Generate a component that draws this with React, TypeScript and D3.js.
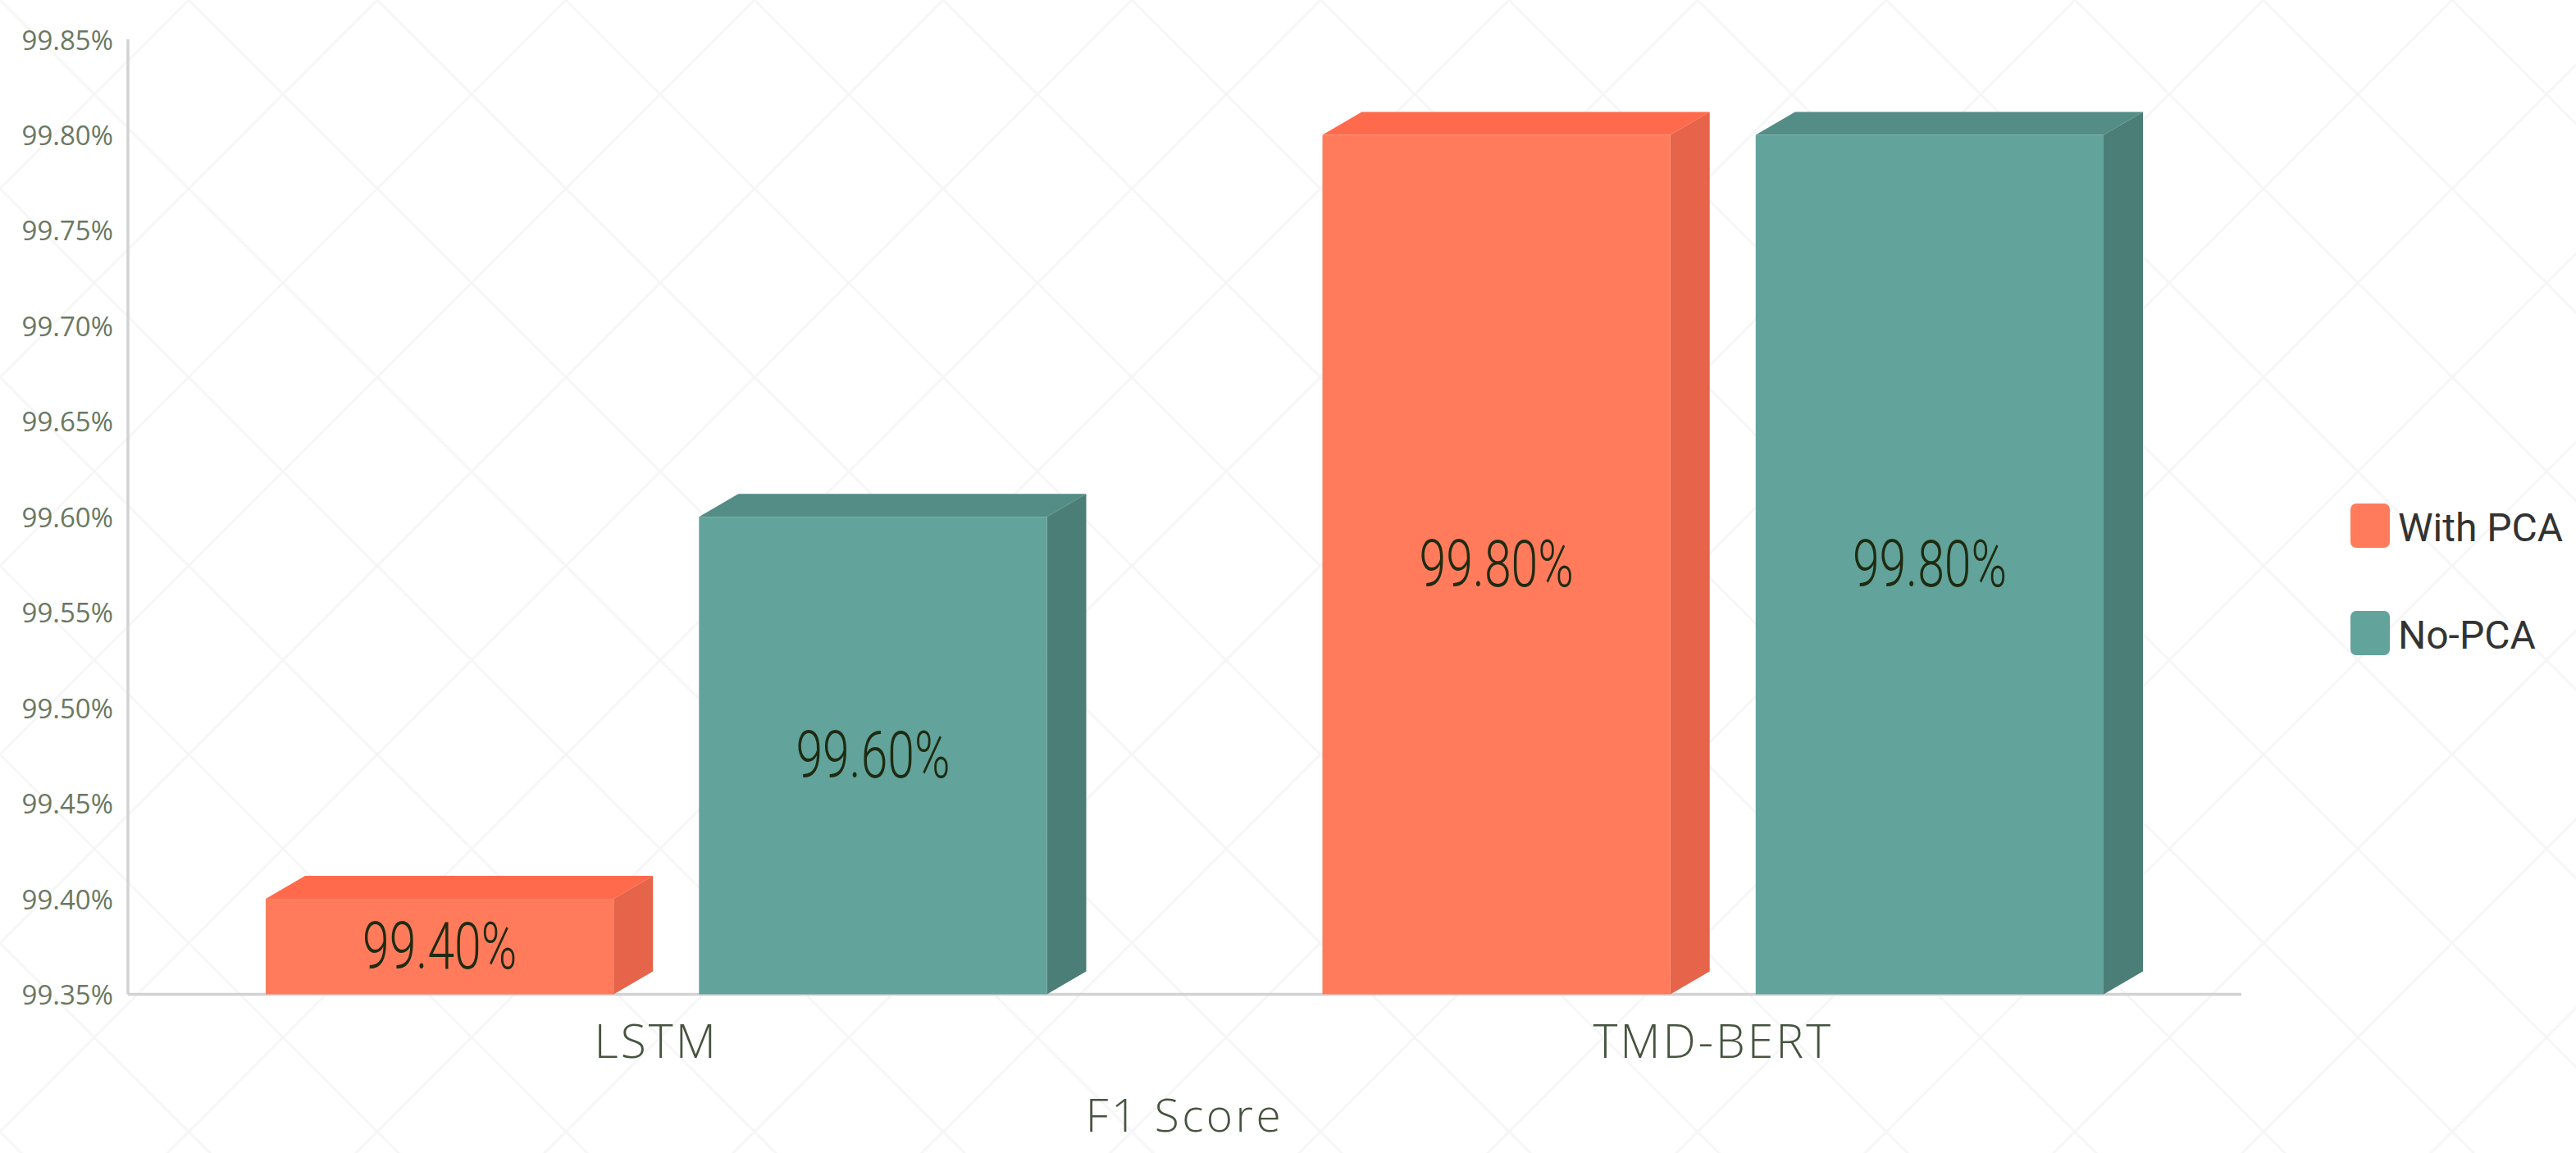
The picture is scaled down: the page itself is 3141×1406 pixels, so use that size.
import React from "react";
import * as d3 from "d3";

const categories = ["LSTM", "TMD-BERT"];
const seriesNames = ["With PCA", "No-PCA"];
const withPCA = [99.4, 99.8];
const noPCA = [99.6, 99.8];
const yTicks = [99.35, 99.4, 99.45, 99.5, 99.55, 99.6, 99.65, 99.7, 99.75, 99.8, 99.85];
const xAxisTitle = "F1 Score";

const W = 3141;
const H = 1406;
const M = { left: 156, right: 2733, top: 48, bottom: 1212.5 };

const palette = [
  { front: "#FF7B5C", top: "#FF6A4D", side: "#E5644A" },
  { front: "#62A39B", top: "#538D86", side: "#4B7E77" },
];

const DX = 48;
const DY = 28;

export default function App() {
  const x0 = d3.scaleBand<string>().domain(categories).range([M.left, M.right]).paddingInner(0).paddingOuter(0);
  const x1 = d3
    .scaleBand<string>()
    .domain(seriesNames)
    .range([0, x0.bandwidth()])
    .paddingInner(0.197)
    .paddingOuter(0.318);
  const y = d3.scaleLinear().domain([99.35, 99.85]).range([M.bottom, M.top]);
  const fmt = (v: number) => d3.format(".2f")(v) + "%";
  const series = [withPCA, noPCA];

  const bars: any[] = [];
  categories.forEach((c, ci) => {
    seriesNames.forEach((s, si) => {
      const v = series[si][ci];
      const bx = (x0(c) as number) + (x1(s) as number);
      const bw = x1.bandwidth();
      const top = y(v);
      const base = y(99.35);
      const col = palette[si];
      bars.push(
        <g key={c + s}>
          <polygon
            points={`${bx},${top} ${bx + DX},${top - DY} ${bx + bw + DX},${top - DY} ${bx + bw},${top}`}
            fill={col.top}
          />
          <polygon
            points={`${bx + bw},${top} ${bx + bw + DX},${top - DY} ${bx + bw + DX},${base - DY} ${bx + bw},${base}`}
            fill={col.side}
          />
          <rect x={bx} y={top} width={bw} height={base - top} fill={col.front} />
          <text
            x={bx + bw / 2}
            y={(top + base) / 2}
            textAnchor="middle"
            dominantBaseline="central"
            fontFamily="Roboto"
            fontWeight={300}
            fontSize={80}
            fill="#1E2B10"
            textLength={188}
            lengthAdjust="spacingAndGlyphs"
          >
            {fmt(v)}
          </text>
        </g>
      );
    });
  });

  return (
    <svg
      width={W}
      height={H}
      viewBox={`0 0 ${W} ${H}`}
      style={{ position: "absolute", left: 0, top: 0, background: "#ffffff" }}
    >
      <defs>
        <pattern id="zig" width="230" height="230" patternUnits="userSpaceOnUse">
          <path d="M0,0 L115,115 L230,0 M0,230 L115,115 L230,230" stroke="#f6f6f6" strokeWidth="3" fill="none" />
        </pattern>
      </defs>
      <rect x={0} y={0} width={W} height={H} fill="url(#zig)" />

      {/* y tick labels */}
      {yTicks.map((t) => (
        <text
          key={t}
          x={138}
          y={y(t)}
          textAnchor="end"
          dominantBaseline="central"
          fontFamily="Open Sans"
          fontSize={33}
          fill="#6A7862"
        >
          {fmt(t)}
        </text>
      ))}

      {/* axes */}
      <line x1={M.left} x2={M.left} y1={y(99.85)} y2={M.bottom} stroke="#D2D2D2" strokeWidth={3.5} />
      <line x1={M.left} x2={M.right} y1={M.bottom} y2={M.bottom} stroke="#D2D2D2" strokeWidth={3.5} />

      {bars}

      {/* category labels */}
      {categories.map((c) => (
        <text
          key={c}
          x={(x0(c) as number) + x0.bandwidth() / 2}
          y={1290}
          textAnchor="middle"
          fontFamily="Open Sans"
          fontWeight={300}
          fontSize={57}
          letterSpacing={3}
          fill="#46543F"
        >
          {c}
        </text>
      ))}

      <text
        x={(M.left + M.right) / 2}
        y={1380}
        textAnchor="middle"
        fontFamily="Open Sans"
        fontWeight={300}
        fontSize={55}
        letterSpacing={3.5}
        fill="#46543F"
      >
        {xAxisTitle}
      </text>

      {/* legend */}
      {seriesNames.map((s, i) => (
        <g key={s} transform={`translate(2866, ${614 + i * 131})`}>
          <rect x={0} y={0} width={48} height={54} rx={7} fill={palette[i].front} />
          <text x={58} y={46} fontFamily="Roboto" fontSize={48} fill="#333333">
            {s}
          </text>
        </g>
      ))}
    </svg>
  );
}
